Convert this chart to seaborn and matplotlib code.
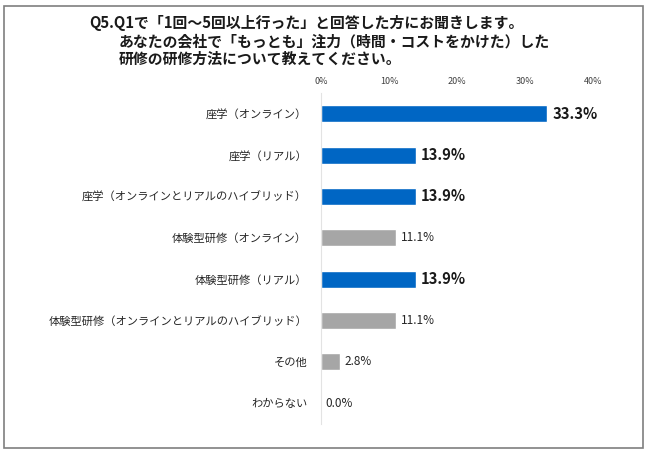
import matplotlib
matplotlib.use("Agg")
import matplotlib.pyplot as plt
import seaborn as sns
import pandas as pd
from matplotlib.patches import Rectangle

# data
kategorien = [
    "座学（オンライン）",
    "座学（リアル）",
    "座学（オンラインとリアルのハイブリッド）",
    "体験型研修（オンライン）",
    "体験型研修（リアル）",
    "体験型研修（オンラインとリアルのハイブリッド）",
    "その他",
    "わからない",
]
werte = [33.3, 13.9, 13.9, 11.1, 13.9, 11.1, 2.8, 0.0]
hervorheben = [True, True, True, False, True, False, False, False]
ticks = [0, 10, 20, 30, 40]
titel = [
    "Q5.Q1で「1回～5回以上行った」と回答した方にお聞きします。",
    "あなたの会社で「もっとも」注力（時間・コストをかけた）した",
    "研修の研修方法について教えてください。",
]

BLAU = "#0066C4"
GRAU = "#A6A6A6"

sns.set_theme(style="white")
plt.rcParams["font.family"] = ["Noto Sans CJK JP", "DejaVu Sans"]

df = pd.DataFrame({"kat": kategorien, "wert": werte})
farben = [BLAU if h else GRAU for h in hervorheben]

W, H = 650, 454
fig = plt.figure(figsize=(6.5, 4.54), dpi=100)
fig.patch.set_facecolor("white")

ax = fig.add_axes([321 / W, 1 - 424 / H, (593 - 321) / W, (424 - 93) / H])
sns.barplot(data=df, x="wert", y="kat", hue="kat", palette=farben,
            legend=False, width=0.41, ax=ax, saturation=1)

ax.set_xlim(0, 40)
ax.set_xticks(ticks)
ax.set_xticklabels([f"{t}%" for t in ticks], fontsize=6.5, color="#404040")
ax.xaxis.tick_top()
ax.tick_params(axis="x", length=0, pad=5)
ax.tick_params(axis="y", length=0, pad=10, labelsize=8.1, labelcolor="#262626")
ax.set_xlabel("")
ax.set_ylabel("")
for s in ["top", "right", "bottom"]:
    ax.spines[s].set_visible(False)
ax.spines["left"].set_color("#E3E3E3")
ax.spines["left"].set_linewidth(0.8)
ax.grid(False)

for i, (v, h) in enumerate(zip(werte, hervorheben)):
    if h:
        ax.text(v + 0.7, i, f"{v:.1f}%", va="center", ha="left",
                fontsize=10.6, fontweight="bold", color="#1a1a1a")
    else:
        ax.text(v + 0.7, i, f"{v:.1f}%", va="center", ha="left",
                fontsize=8.5, color="#262626")

# title, three lines
fig.text(89 / W, 1 - 23 / H, titel[0], fontsize=10.7, fontweight="bold",
         va="center", ha="left", color="#1a1a1a")
fig.text(119 / W, 1 - 41 / H, titel[1], fontsize=10.7, fontweight="bold",
         va="center", ha="left", color="#1a1a1a")
fig.text(119 / W, 1 - 59 / H, titel[2], fontsize=10.7, fontweight="bold",
         va="center", ha="left", color="#1a1a1a")

# frame around the chart
fig.patches.append(Rectangle((4 / W, 1 - 448 / H), (643 - 4) / W, (448 - 6) / H,
                             transform=fig.transFigure, fill=False,
                             edgecolor="#7F7F7F", linewidth=1.2))

fig.savefig("out.png", dpi=100, facecolor="white")
